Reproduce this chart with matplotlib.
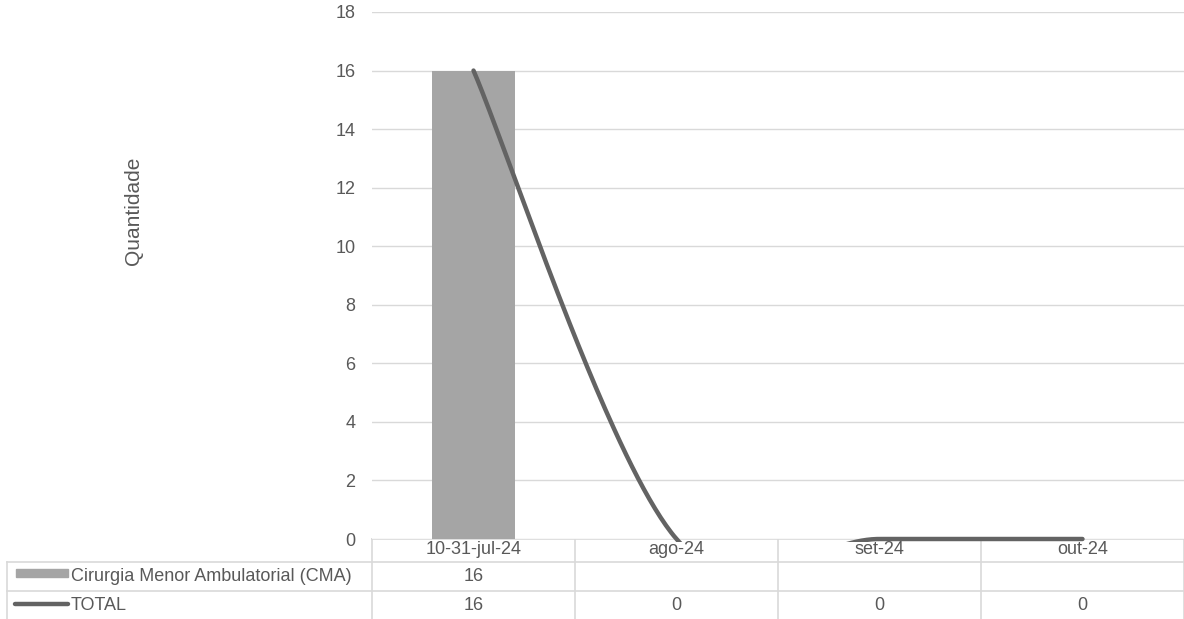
import numpy as np
import matplotlib
matplotlib.use("Agg")
import matplotlib.pyplot as plt
from matplotlib.transforms import Bbox, TransformedBbox
from matplotlib.lines import Line2D
from matplotlib.patches import Rectangle

categories = ["10-31-jul-24", "ago-24", "set-24", "out-24"]
cma_values = [16, None, None, None]
total_values = [16, 0, 0, 0]
series_names = ["Cirurgia Menor Ambulatorial (CMA)", "TOTAL"]
y_ticks = [0, 2, 4, 6, 8, 10, 12, 14, 16, 18]
y_label = "Quantidade"

plt.rcParams['font.family'] = ['Liberation Sans', 'DejaVu Sans']
TXT = "#595959"
GRID = "#d9d9d9"
BAR = "#a5a5a5"
LINE = "#636363"
FS = 13

W, H = 1184, 619
fig = plt.figure(figsize=(W / 100, H / 100), dpi=100)

def fx(px):
    return px / W

def fy(py):
    return 1 - py / H

ax_l, ax_r, ax_t, ax_b = 372, 1184, 12, 539
ax_h = ax_b - ax_t
ax = fig.add_axes([fx(ax_l), fy(ax_b), fx(ax_r - ax_l), ax_h / H])
ax.set_xlim(-0.5, len(categories) - 0.5)
ax.set_ylim(0, 18)
for s in ax.spines.values():
    s.set_visible(False)
ax.set_yticks(y_ticks)
ax.set_yticklabels([str(v) for v in y_ticks], color=TXT, fontsize=FS)
ax.tick_params(axis='y', length=0, pad=12)
ax.set_xticks([])
ax.yaxis.grid(True, color=GRID, linewidth=1)
ax.set_axisbelow(True)

x = np.arange(len(categories))
bx = [i for i, v in enumerate(cma_values) if v is not None]
bv = [v for v in cma_values if v is not None]
ax.bar(bx, bv, width=0.41, color=BAR, zorder=2)

# Excel-style smoothed line (Catmull-Rom Bezier in pixel space)
sx = (ax_r - ax_l) / len(categories)
sy = ax_h / 18.0
P = np.column_stack([x * sx, np.array(total_values, float) * sy])
pts = []
n = len(P)
for i in range(n - 1):
    p0 = P[i - 1] if i > 0 else P[i]
    p1, p2 = P[i], P[i + 1]
    p3 = P[i + 2] if i + 2 < n else P[i + 1]
    c1 = p1 + (p2 - p0) / 6
    c2 = p2 - (p3 - p1) / 6
    t = np.linspace(0, 1, 80)[:, None]
    seg = ((1 - t) ** 3) * p1 + 3 * ((1 - t) ** 2) * t * c1 + 3 * (1 - t) * t ** 2 * c2 + t ** 3 * p2
    pts.append(seg if i == 0 else seg[1:])
curve = np.vstack(pts)
ln, = ax.plot(curve[:, 0] / sx, curve[:, 1] / sy, color=LINE, linewidth=3.2,
              solid_capstyle='round', zorder=3)
ln.set_clip_box(TransformedBbox(Bbox([[0, -2.5 / ax_h], [1, 1.02]]), ax.transAxes))

# y label
fig.text(fx(134), fy(211), y_label, rotation=90, ha='center', va='center',
         color=TXT, fontsize=15)

# data table
rows_y = [539, 562, 591, 619]
col_x = [ax_l + i * sx for i in range(len(categories) + 1)]

def hline(y, x0, x1):
    fig.add_artist(Line2D([fx(x0), fx(x1)], [fy(y), fy(y)], color=GRID, linewidth=1.2, zorder=0))

def vline(xp, y0, y1):
    fig.add_artist(Line2D([fx(xp), fx(xp)], [fy(y0), fy(y1)], color=GRID, linewidth=1.2, zorder=0))

hline(rows_y[0], ax_l, ax_r)
hline(rows_y[1], 7, ax_r)
hline(rows_y[2], 7, ax_r)
vline(7, rows_y[1], rows_y[3])
for xp in col_x:
    vline(xp, rows_y[0], rows_y[3])

for i, c in enumerate(categories):
    cx = ax_l + (i + 0.5) * sx
    fig.text(fx(cx), fy(550), c, ha='center', va='center', color=TXT, fontsize=FS)
    if cma_values[i] is not None:
        fig.text(fx(cx), fy(576.5), str(cma_values[i]), ha='center', va='center', color=TXT, fontsize=FS)
    fig.text(fx(cx), fy(605), str(total_values[i]), ha='center', va='center', color=TXT, fontsize=FS)

# legend keys
fig.add_artist(Rectangle((fx(16), fy(577)), fx(52), 8 / H, color=BAR, transform=fig.transFigure))
fig.add_artist(Line2D([fx(15), fx(68)], [fy(603.5), fy(603.5)], color=LINE, linewidth=3.2,
                      solid_capstyle='round'))
fig.text(fx(71), fy(576.5), series_names[0], ha='left', va='center', color=TXT, fontsize=FS)
fig.text(fx(71), fy(605), series_names[1], ha='left', va='center', color=TXT, fontsize=FS)

fig.savefig("out.png", dpi=100)
